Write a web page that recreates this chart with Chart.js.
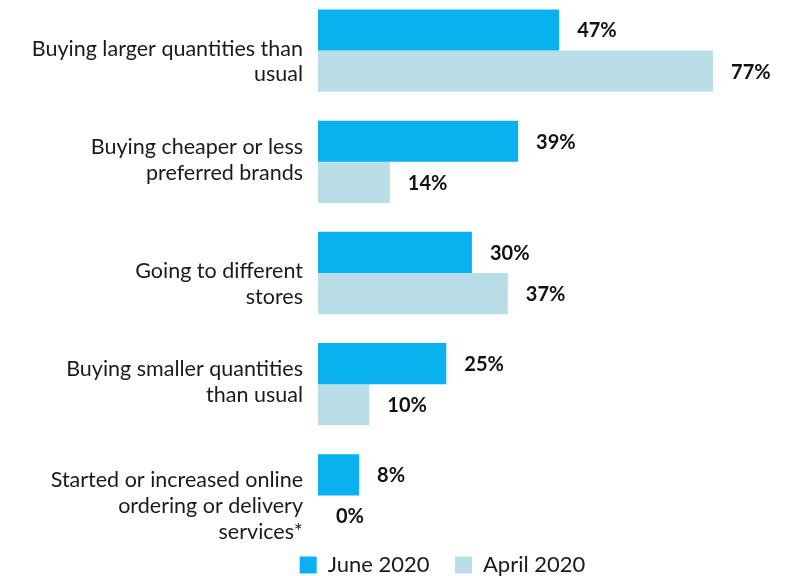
<!DOCTYPE html>
<html>
<head>
<meta charset="utf-8">
<script src="https://cdn.jsdelivr.net/npm/chart.js@4"></script>
<style>
  html, body { margin: 0; padding: 0; background: #fff; overflow: hidden; width: 789px; height: 576px; }
  #chart { position: absolute; left: 0; top: -5px; }
</style>
</head>
<body>
<canvas id="chart" width="885" height="591"></canvas>
<script>
// category labels, one array of lines per bar group ('' pushes the text down a line)
const categories = [
    ['', 'Buying larger quantities than', 'usual'],
    ['Buying cheaper or less', 'preferred brands'],
    ['', 'Going to different', 'stores'],
    ['Buying smaller quantities', 'than usual'],
    ['', 'Started or increased online', 'ordering or delivery', 'services*']
];
const june2020 = [47, 39, 30, 25, 8];
const april2020 = [77, 14, 37, 10, 0];

const juneColor = '#0AB1EF';
const aprilColor = '#B9DEE8';
const fontFamily = 'Lato, "Open Sans", sans-serif';

// writes the value next to the end of every bar
const valueLabels = {
    id: 'valueLabels',
    afterDatasetsDraw(chart) {
        const ctx = chart.ctx;
        ctx.save();
        ctx.font = 'bold 20px ' + fontFamily;
        ctx.fillStyle = '#111';
        ctx.textAlign = 'left';
        ctx.textBaseline = 'middle';
        chart.data.datasets.forEach((ds, i) => {
            chart.getDatasetMeta(i).data.forEach((bar, j) => {
                ctx.fillText(ds.data[j] + '%', bar.x + 18, bar.y + 1);
            });
        });
        ctx.restore();
    }
};

new Chart(document.querySelector('#chart').getContext('2d'), {
    type: 'bar',
    data: {
        labels: categories,
        datasets: [
            { label: 'June 2020', data: june2020, backgroundColor: juneColor },
            { label: 'April 2020', data: april2020, backgroundColor: aprilColor }
        ]
    },
    options: {
        indexAxis: 'y',
        responsive: false,
        animation: false,
        layout: { padding: 0 },
        datasets: {
            bar: { categoryPercentage: 0.74, barPercentage: 1, borderWidth: 0 }
        },
        scales: {
            x: { display: false, min: 0, max: 110.5 },
            y: {
                grid: { display: false },
                border: { display: false },
                ticks: {
                    color: '#1a1a1a',
                    padding: 7,
                    labelOffset: -2,
                    font: { family: fontFamily, size: 21.5, lineHeight: 1.2 }
                },
                afterFit(scale) {
                    // fixed label column, and no extra room for tall first/last labels
                    scale.width = 318;
                    scale.paddingTop = 0;
                    scale.paddingBottom = 0;
                }
            }
        },
        plugins: {
            tooltip: { enabled: false },
            legend: {
                position: 'bottom',
                labels: {
                    boxWidth: 17,
                    boxHeight: 17,
                    padding: 3,
                    color: '#1a1a1a',
                    font: { family: fontFamily, size: 22 },
                    generateLabels(chart) {
                        const items = Chart.defaults.plugins.legend.labels.generateLabels(chart);
                        items[0].text += '    ';
                        items.forEach(it => { it.lineWidth = 0; });
                        return items;
                    }
                }
            }
        }
    },
    plugins: [valueLabels]
});
</script>
</body>
</html>
